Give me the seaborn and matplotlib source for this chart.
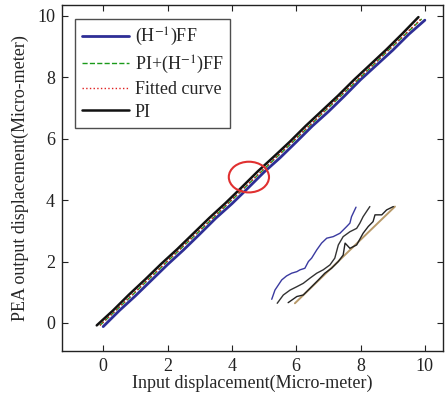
import numpy as np
import pandas as pd
import matplotlib
matplotlib.use("Agg")
import matplotlib.pyplot as plt
from matplotlib.patches import Ellipse
import seaborn as sns

# ---- data ----
ff_x = [0.0, 0.5, 1.0, 1.5, 2.0, 2.5, 3.0, 3.5, 4.0, 4.5, 5.0, 5.5, 6.0, 6.5, 7.0, 7.5, 8.0, 8.5, 9.0, 9.5, 10.0]
ff_y = [-0.12, 0.40, 0.88, 1.39, 1.90, 2.38, 2.89, 3.41, 3.88, 4.39, 4.91, 5.38, 5.89, 6.41, 6.88, 7.39, 7.92, 8.40, 8.88, 9.40, 9.86]

pi_x = [-0.2, 0.3, 0.8, 1.3, 1.8, 2.3, 2.8, 3.3, 3.8, 4.3, 4.8, 5.3, 5.8, 6.3, 6.8, 7.3, 7.8, 8.3, 8.8, 9.3, 9.8]
pi_y = [-0.08, 0.40, 0.92, 1.41, 1.92, 2.40, 2.91, 3.42, 3.90, 4.41, 4.93, 5.41, 5.90, 6.42, 6.91, 7.40, 7.92, 8.41, 8.90, 9.42, 9.96]

piff_x = [-0.1, 0.9, 1.9, 2.9, 3.9, 4.9, 5.9, 6.9, 7.9, 8.9, 9.9]
piff_y = [-0.08, 0.90, 1.91, 2.90, 3.90, 4.91, 5.90, 6.91, 7.90, 8.91, 9.90]

fit_x = [-0.1, 9.9]
fit_y = [-0.08, 9.92]

# magnified sketch (bottom right)
zb_x = [5.24, 5.34, 5.55, 5.70, 5.86, 6.02, 6.12, 6.27, 6.38, 6.48, 6.64, 6.79, 6.95, 7.15, 7.36, 7.57, 7.67, 7.72, 7.86]
zb_y = [0.77, 1.07, 1.40, 1.53, 1.62, 1.67, 1.73, 1.78, 2.00, 2.11, 2.38, 2.60, 2.76, 2.81, 2.92, 3.14, 3.25, 3.46, 3.77]
zk1_x = [5.41, 5.60, 5.81, 6.02, 6.22, 6.43, 6.64, 6.84, 7.05, 7.20, 7.31, 7.46, 7.67, 7.88, 7.98, 8.08, 8.29]
zk1_y = [0.64, 0.91, 1.07, 1.18, 1.29, 1.46, 1.62, 1.73, 1.89, 2.11, 2.54, 2.81, 2.97, 3.08, 3.25, 3.46, 3.79]
zk2_x = [5.75, 6.02, 6.22, 6.48, 6.69, 6.89, 7.10, 7.31, 7.46, 7.52, 7.67, 7.88, 8.08, 8.24, 8.39, 8.45, 8.66, 8.81, 9.02]
zk2_y = [0.66, 0.86, 0.91, 1.18, 1.40, 1.62, 1.78, 2.00, 2.21, 2.60, 2.43, 2.54, 2.92, 3.14, 3.30, 3.52, 3.52, 3.68, 3.79]
zt_x = [5.96, 9.07]
zt_y = [0.64, 3.79]

circle_center = (4.53, 4.75)

xticks = [0, 2, 4, 6, 8, 10]
yticks = [0, 2, 4, 6, 8, 10]

# ---- style ----
sns.set_style("ticks")
plt.rcParams["font.family"] = ["Liberation Serif", "DejaVu Serif"]
plt.rcParams["mathtext.fontset"] = "stix"
plt.rcParams["xtick.direction"] = "in"
plt.rcParams["ytick.direction"] = "in"

fig = plt.figure(figsize=(4.46, 4.01), dpi=100)
ax = fig.add_axes([0.139, 0.125, 0.854, 0.863])

def draw(x, y, color, ls, lw, label=None):
    df = pd.DataFrame({"x": x, "y": y})
    sns.lineplot(data=df, x="x", y="y", ax=ax, color=color, linestyle=ls,
                 linewidth=lw, label=label, sort=False, estimator=None)

draw(ff_x, ff_y, "#2e2e96", "-", 2.0, r"(H$^{-1}$)FF")
draw(piff_x, piff_y, "#1a9a1a", "--", 1.0, r"PI+(H$^{-1}$)FF")
draw(fit_x, fit_y, "#e02020", ":", 1.0, "Fitted curve")
draw(pi_x, pi_y, "#111111", "-", 1.8, "PI")

# magnified sketch
draw(zt_x, zt_y, "#b89a6a", "-", 1.4)
draw(zb_x, zb_y, "#3a3aa0", "-", 1.0)
draw(zk1_x, zk1_y, "#333333", "-", 1.0)
draw(zk2_x, zk2_y, "#222222", "-", 1.0)

ell = Ellipse(circle_center, 1.25, 1.0, fill=False, edgecolor="#e03030", linewidth=1.5, zorder=5)
ax.add_patch(ell)

ax.set_xlim(-1.28, 10.56)
ax.set_ylim(-0.91, 10.36)
ax.set_xticks(xticks)
ax.set_yticks(yticks)
ax.tick_params(axis="both", which="both", direction="in", top=True, right=True,
               length=4, width=0.8, labelsize=13, colors="#222222", pad=5)
for s in ax.spines.values():
    s.set_linewidth(1.0)
    s.set_color("#222222")

ax.set_xlabel("Input displacement(Micro-meter)", fontsize=13, labelpad=0)
ax.set_ylabel("PEA output displacement(Micro-meter)", fontsize=13, labelpad=6)

leg = ax.legend(loc="upper left", bbox_to_anchor=(0.034, 0.96), borderaxespad=0,
                fontsize=13, handlelength=2.6, handletextpad=0.3, labelspacing=0.3,
                frameon=True, fancybox=False, borderpad=0.4)
leg.get_frame().set_edgecolor("#222222")
leg.get_frame().set_linewidth(1.0)

fig.savefig("out.png", dpi=100)
